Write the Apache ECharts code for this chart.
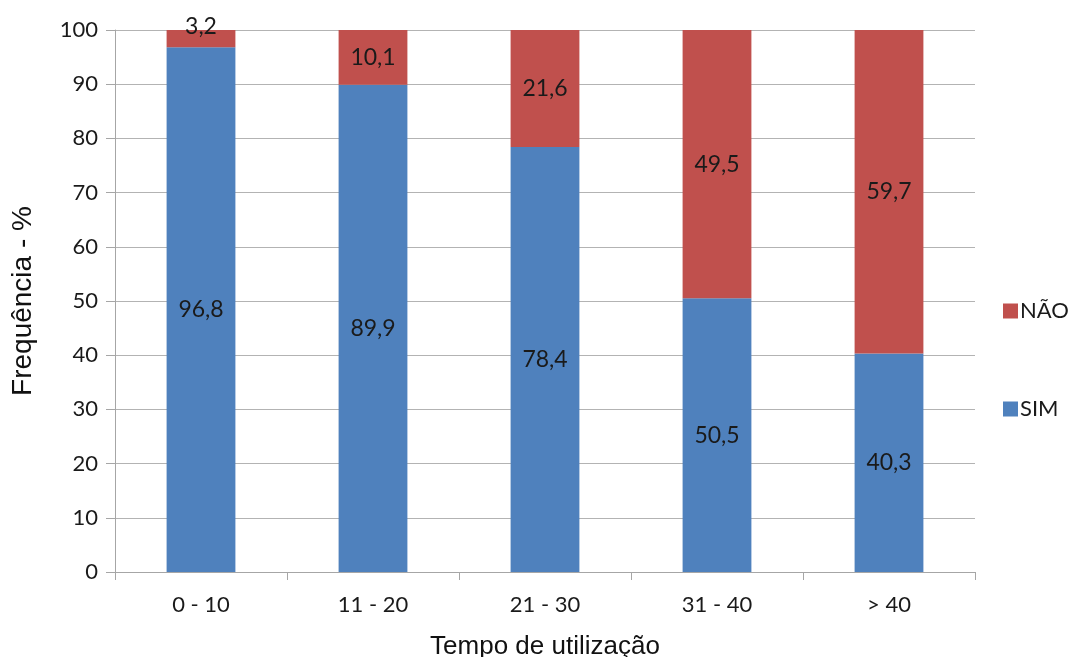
<!DOCTYPE html>
<html>
<head>
<meta charset="utf-8">
<script src="https://cdn.jsdelivr.net/npm/echarts@6/dist/echarts.min.js"></script>
<style>
  html, body { margin: 0; padding: 0; background: #fff; }
  #chart { width: 1072px; height: 657px; }
</style>
</head>
<body>
<div id="chart"></div>
<script>
// Faixas de tempo de utilização (eixo das categorias)
const categories = ['0 - 10', '11 - 20', '21 - 30', '31 - 40', '> 40'];
// Percentagens por resposta
const simValues = [96.8, 89.9, 78.4, 50.5, 40.3];
const naoValues = [3.2, 10.1, 21.6, 49.5, 59.7];

const FONT = 'Lato, "Liberation Sans", sans-serif';
const TITLE_FONT = '"Liberation Sans", Arial, sans-serif';
const fmt = v => String(v).replace('.', ',');

const chart = echarts.init(document.getElementById('chart'), null, { renderer: 'canvas' });

const labelStyle = {
  show: true,
  position: 'inside',
  color: '#1a1a1a',
  fontSize: 23,
  fontFamily: FONT,
  formatter: p => fmt(p.value)
};

chart.setOption({
  animation: false,
  backgroundColor: '#ffffff',
  textStyle: { fontFamily: FONT },
  grid: { left: 115, right: 97, top: 30, bottom: 85, containLabel: false, outerBoundsMode: 'none' },
  legend: {
    orient: 'vertical',
    left: 998,
    top: 293,
    data: ['NÃO', 'SIM'],
    itemWidth: 15,
    itemHeight: 15,
    itemGap: 72,
    icon: 'rect',
    textStyle: { fontSize: 22, color: '#1a1a1a', fontFamily: FONT, lineHeight: 26, padding: [0, 0, 0, -3] }
  },
  xAxis: {
    type: 'category',
    data: categories,
    name: 'Tempo de utilização',
    nameLocation: 'middle',
    nameGap: 62,
    nameTextStyle: { fontSize: 26, color: '#111', fontFamily: TITLE_FONT },
    axisLine: { lineStyle: { color: '#a6a6a6', width: 1 } },
    axisTick: { show: true, length: 8, lineStyle: { color: '#a6a6a6' } },
    axisLabel: { fontSize: 22, color: '#1a1a1a', margin: 22, fontFamily: FONT }
  },
  yAxis: {
    type: 'value',
    min: 0,
    max: 100,
    interval: 10,
    name: 'Frequência - %',
    nameLocation: 'middle',
    nameGap: 78,
    nameTextStyle: { fontSize: 28, color: '#111', fontFamily: TITLE_FONT },
    axisLine: { show: true, lineStyle: { color: '#a6a6a6', width: 1 } },
    axisTick: { show: true, length: 9, lineStyle: { color: '#a6a6a6' } },
    axisLabel: { fontSize: 22, color: '#1a1a1a', margin: 17, fontFamily: FONT },
    splitLine: { show: true, lineStyle: { color: '#b3b3b3', width: 1 } }
  },
  series: [
    {
      name: 'SIM',
      type: 'bar',
      stack: 'total',
      barWidth: '40%',
      data: simValues,
      itemStyle: { color: '#4F81BD' },
      label: labelStyle
    },
    {
      name: 'NÃO',
      type: 'bar',
      stack: 'total',
      barWidth: '40%',
      data: naoValues.map((v, i) => i === 0
        ? { value: v, label: { position: 'top', distance: -8 } }
        : v),
      itemStyle: { color: '#C0504D' },
      label: labelStyle
    }
  ]
});
</script>
</body>
</html>
